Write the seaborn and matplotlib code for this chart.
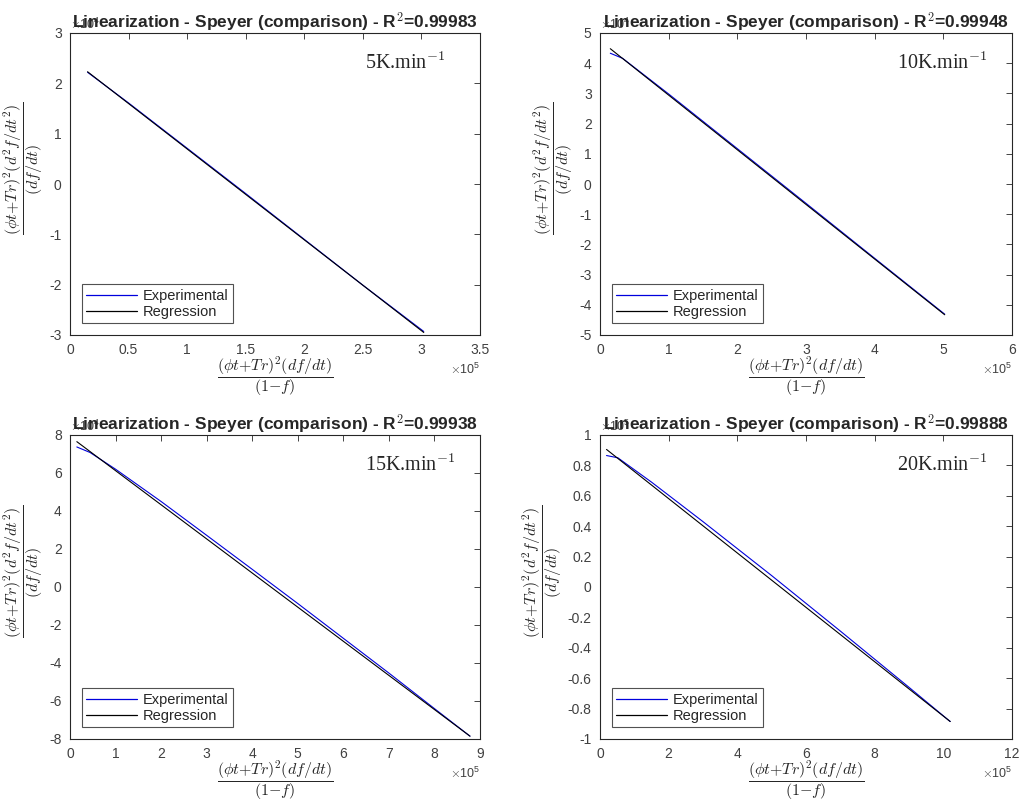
import matplotlib
matplotlib.use("Agg")
import matplotlib.pyplot as plt
import matplotlib.ticker as ticker
from matplotlib.lines import Line2D
import numpy as np
import pandas as pd
import seaborn as sns

# ---------------- data (x in units of 1e5, y in units of the hidden offset) ----
rate_labels = ["5K.min$^{-1}$", "10K.min$^{-1}$", "15K.min$^{-1}$", "20K.min$^{-1}$"]
r2_values = ["0.99983", "0.99948", "0.99938", "0.99888"]
legend_labels = ["Experimental", "Regression"]
x_exp10 = 5
y_exp10 = [4, 4, 4, 5]

exp_x_5 = [0.15, 0.50, 1.00, 1.50, 2.00, 2.50, 3.02]
exp_y_5 = [2.22, 1.61, 0.71, -0.19, -1.10, -2.01, -2.93]
reg_x_5 = [0.15, 3.02]
reg_y_5 = [2.23, -2.95]

exp_x_10 = [0.15, 0.33, 1.00, 2.00, 3.00, 4.00, 5.02]
exp_y_10 = [4.33, 4.16, 2.98, 1.17, -0.64, -2.46, -4.31]
reg_x_10 = [0.15, 5.02]
reg_y_10 = [4.48, -4.33]

exp_x_15 = [0.15, 0.44, 1.00, 2.00, 3.00, 4.00, 5.00, 6.00, 7.00, 8.00, 8.78]
exp_y_15 = [7.37, 7.08, 6.20, 4.50, 2.72, 0.93, -0.87, -2.70, -4.53, -6.40, -7.85]
reg_x_15 = [0.15, 8.78]
reg_y_15 = [7.65, -7.85]

exp_x_20 = [0.19, 0.52, 1.50, 3.00, 5.00, 7.00, 9.00, 10.20]
exp_y_20 = [0.865, 0.85, 0.69, 0.43, 0.075, -0.29, -0.66, -0.885]
reg_x_20 = [0.19, 10.20]
reg_y_20 = [0.905, -0.885]

exp_x = [exp_x_5, exp_x_10, exp_x_15, exp_x_20]
exp_y = [exp_y_5, exp_y_10, exp_y_15, exp_y_20]
reg_x = [reg_x_5, reg_x_10, reg_x_15, reg_x_20]
reg_y = [reg_y_5, reg_y_10, reg_y_15, reg_y_20]

x_lims = [(0, 3.5), (0, 6), (0, 9), (0, 12)]
x_steps = [0.5, 1, 1, 2]
y_lims = [(-3, 3), (-5, 5), (-8, 8), (-1, 1)]
y_steps = [1, 1, 2, 0.2]

# ---------------- style ----------------
sns.set_style("white")
plt.rcParams["font.family"] = ["Liberation Sans", "DejaVu Sans"]
plt.rcParams["mathtext.fontset"] = "cm"
plt.rcParams["axes.unicode_minus"] = False

fig = plt.figure(figsize=(10.19, 8.02), dpi=100)
W, H = 1019.0, 802.0
axes_px = [(70, 33, 480, 335), (600, 33, 1012, 335), (70, 435, 480, 739), (600, 435, 1012, 739)]


class MatFormatter(ticker.ScalarFormatter):
    def _set_format(self):
        self.format = "%g"


xlabel = r"$\dfrac{(\phi t{+}Tr)^2(df/dt)}{(1{-}f)}$"
ylabel = r"$\dfrac{(\phi t{+}Tr)^2(d^2f/dt^2)}{(df/dt)}$"

tick_col = "#404040"
exp_col = "#0000dd"
for i in range(4):
    l, t, r, b = axes_px[i]
    ax = fig.add_axes([l / W, 1 - b / H, (r - l) / W, (b - t) / H])
    xs = 10.0 ** x_exp10
    ys = 10.0 ** y_exp10[i]
    df_e = pd.DataFrame({"x": np.array(exp_x[i]) * xs, "y": np.array(exp_y[i]) * ys})
    df_r = pd.DataFrame({"x": np.array(reg_x[i]) * xs, "y": np.array(reg_y[i]) * ys})
    sns.lineplot(data=df_e, x="x", y="y", ax=ax, color=exp_col, lw=0.8,
                 sort=False, estimator=None, legend=False)
    sns.lineplot(data=df_r, x="x", y="y", ax=ax, color="black", lw=0.8,
                 sort=False, estimator=None, legend=False)
    ax.set_xlim(x_lims[i][0] * xs, x_lims[i][1] * xs)
    ax.set_ylim(y_lims[i][0] * ys, y_lims[i][1] * ys)
    ax.xaxis.set_major_locator(ticker.MultipleLocator(x_steps[i] * xs))
    ax.yaxis.set_major_locator(ticker.MultipleLocator(y_steps[i] * ys))
    fx = MatFormatter(useMathText=True)
    fx.set_powerlimits((x_exp10, x_exp10))
    ax.xaxis.set_major_formatter(fx)
    fy = MatFormatter(useMathText=True)
    fy.set_powerlimits((y_exp10[i], y_exp10[i]))
    ax.yaxis.set_major_formatter(fy)
    ax.tick_params(direction="in", top=True, right=True, length=4, width=0.6,
                   labelsize=10, colors="#262626", labelcolor=tick_col, pad=6)
    for ot in (ax.xaxis.get_offset_text(), ax.yaxis.get_offset_text()):
        ot.set_fontsize(9)
        ot.set_color(tick_col)
    for s in ax.spines.values():
        s.set_color("#262626")
        s.set_linewidth(0.8)
    ax.set_xlabel(xlabel, fontsize=11.5)
    ax.xaxis.set_label_coords(0.5, -0.066)
    ax.set_ylabel(ylabel, fontsize=11.5, labelpad=3)
    ax.yaxis.label.set_y(0.55)
    ax.set_title("Linearization - Speyer (comparison) - R$^\\mathbf{2}$=" + r2_values[i],
                 fontsize=12.5, fontweight="bold", y=1.0, pad=3)
    ax.text(0.72, 0.9, rate_labels[i], transform=ax.transAxes, fontsize=14.5,
            family="Liberation Serif", ha="left", va="center")
    handles = [Line2D([], [], color=exp_col, lw=0.9), Line2D([], [], color="black", lw=0.9)]
    leg = ax.legend(handles, legend_labels, loc="lower left",
                    fontsize=10.5, frameon=True, fancybox=False,
                    edgecolor="#262626", handlelength=3.5, borderpad=0.3,
                    labelspacing=0.15, handletextpad=0.4, borderaxespad=0.8)
    leg.get_frame().set_linewidth(0.8)

fig.savefig("out.png", dpi=100, facecolor="white")
